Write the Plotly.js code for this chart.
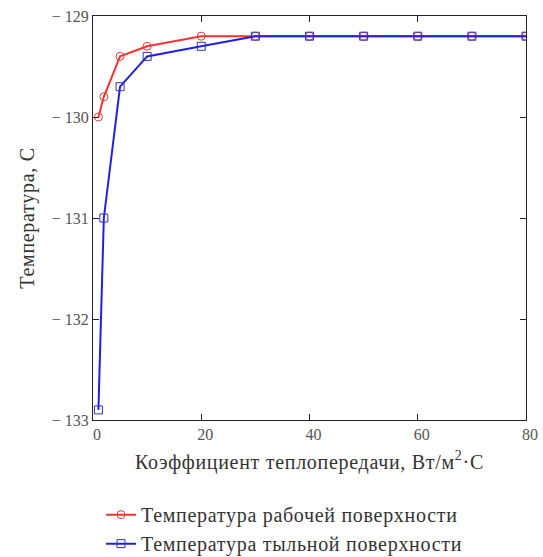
<!DOCTYPE html>
<html>
<head>
<meta charset="utf-8">
<script src="https://cdn.plot.ly/plotly-3.0.1.min.js"></script>
<style>
html,body{margin:0;padding:0;background:#fff;}
#chart{width:543px;height:557px;}
.legendtext, .xtitle, .ytitle { letter-spacing: 0.7px; }
</style>
</head>
<body>
<div id="chart"></div>
<script>
const xValues = [1, 2, 5, 10, 20, 30, 40, 50, 60, 70, 80];
const workSurface = [-130.0, -129.8, -129.4, -129.3, -129.2, -129.2, -129.2, -129.2, -129.2, -129.2, -129.2];
const backSurface = [-132.9, -131.0, -129.7, -129.4, -129.3, -129.2, -129.2, -129.2, -129.2, -129.2, -129.2];
const seriesNames = ["Температура рабочей поверхности", "Температура тыльной поверхности"];
const yTickVals = [-133, -132, -131, -130, -129];
const yTickText = ["− 133", "− 132", "− 131", "− 130", "− 129"];
const xTickVals = [0, 20, 40, 60, 80];
const xTitle = "Коэффициент теплопередачи, Вт/м<sup>2</sup>·С";
const yTitle = "Температура, С";

const serif = "Liberation Serif, Times New Roman, serif";
const traces = [
  {x: xValues, y: workSurface, name: seriesNames[0], mode: "lines+markers",
   line: {color: "#f03434", width: 2},
   marker: {symbol: "circle-open", size: 8, color: "#e03a3a", line: {width: 1}}},
  {x: xValues, y: backSurface, name: seriesNames[1], mode: "lines+markers",
   line: {color: "#2020e0", width: 2},
   marker: {symbol: "square-open", size: 8, color: "#3030c0", line: {width: 1}}}
];
const layout = {
  width: 543, height: 557,
  margin: {l: 93, r: 17, t: 16, b: 137, autoexpand: false},
  paper_bgcolor: "#fff", plot_bgcolor: "#fff",
  font: {family: serif, color: "#333", size: 14},
  showlegend: true,
  legend: {x: 0.0185, y: -0.186, xanchor: "left", yanchor: "top", orientation: "v",
           font: {family: serif, size: 20, color: "#333"}, bgcolor: "rgba(0,0,0,0)",
           itemwidth: 30, tracegroupgap: 0},
  xaxis: {range: [0, 80], tickvals: xTickVals, ticks: "inside", ticklen: 6, tickcolor: "#222",
          showline: true, linecolor: "#222", linewidth: 1, mirror: "ticks", showgrid: false, zeroline: false,
          ticklabelshift: 4,
          tickfont: {family: serif, size: 16, color: "#555"},
          title: {text: xTitle, font: {family: serif, size: 20, color: "#333"}, standoff: 12}},
  yaxis: {range: [-133, -129], tickvals: yTickVals, ticktext: yTickText, ticks: "inside", ticklen: 6, tickcolor: "#222",
          showline: true, linecolor: "#222", linewidth: 1, mirror: "ticks", showgrid: false, zeroline: false,
          tickfont: {family: serif, size: 16, color: "#555"},
          title: {text: yTitle, font: {family: serif, size: 20, color: "#333"}, standoff: 11}}
};
Plotly.newPlot("chart", traces, layout, {displayModeBar: false, staticPlot: true});
</script>
</body>
</html>
